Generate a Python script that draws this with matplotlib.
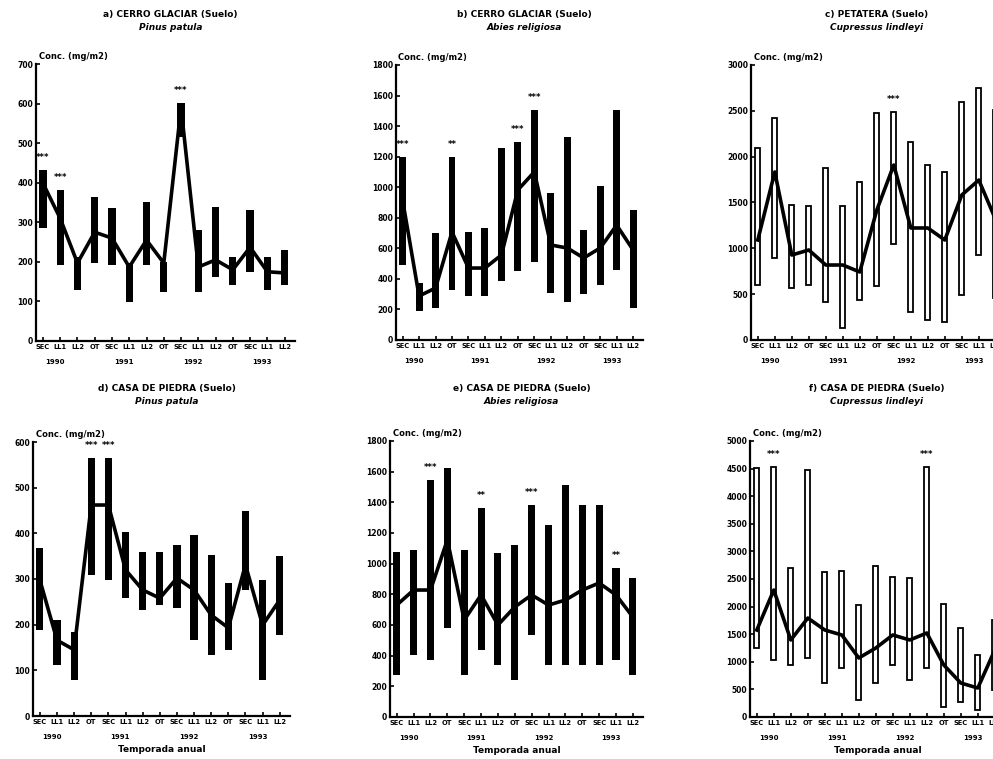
import matplotlib
matplotlib.use("Agg")
import matplotlib.pyplot as plt
import numpy as np

seasons = ["SEC", "LL1", "LL2", "OT"] * 3 + ["SEC", "LL1", "LL2"]
years = ["1990", "1991", "1992", "1993"]
year_pos = [0.7, 4.7, 8.7, 12.7]
x = np.arange(15)

titles = ["a) CERRO GLACIAR (Suelo)", "b) CERRO GLACIAR (Suelo)", "c) PETATERA (Suelo)",
          "d) CASA DE PIEDRA (Suelo)", "e) CASA DE PIEDRA (Suelo)", "f) CASA DE PIEDRA (Suelo)"]
species = ["Pinus patula", "Abies religiosa", "Cupressus lindleyi",
           "Pinus patula", "Abies religiosa", "Cupressus lindleyi"]
ylabel = "Conc. (mg/m2)"
xlabel = "Temporada anual"

# panel a
a_mean = [399, 310, 197, 275, 260, 187, 255, 197, 590, 187, 205, 180, 237, 175, 172]
a_low = [285, 192, 129, 197, 192, 99, 192, 124, 515, 124, 162, 141, 174, 129, 141]
a_high = [432, 381, 212, 364, 336, 197, 351, 200, 601, 280, 338, 212, 331, 212, 230]
a_sig = {0: "***", 1: "***", 8: "***"}
# panel b
b_mean = [916, 288, 340, 707, 471, 471, 556, 982, 1100, 622, 602, 537, 602, 752, 589]
b_low = [491, 190, 209, 327, 288, 288, 386, 452, 510, 307, 249, 301, 360, 458, 209]
b_high = [1198, 373, 700, 1198, 707, 733, 1257, 1296, 1505, 962, 1328, 720, 1008, 1505, 851]
b_sig = {0: "***", 3: "**", 7: "***", 8: "***"}
# panel c
c_mean = [1091, 1833, 927, 982, 818, 818, 742, 1418, 1909, 1222, 1222, 1091, 1582, 1745, 1309]
c_low = [600, 895, 567, 600, 415, 131, 436, 589, 1047, 305, 218, 196, 491, 927, 458]
c_high = [2094, 2422, 1473, 1462, 1876, 1462, 1724, 2476, 2487, 2160, 1909, 1833, 2596, 2749, 2509]
c_sig = {8: "***"}
# panel d
d_mean = [298, 166, 145, 462, 462, 320, 276, 258, 302, 276, 221, 193, 331, 199, 254]
d_low = [188, 112, 79, 309, 298, 258, 232, 243, 236, 166, 134, 145, 276, 79, 177]
d_high = [368, 210, 184, 565, 565, 403, 359, 359, 374, 396, 353, 291, 449, 298, 350]
d_sig = {3: "***", 4: "***"}
# panel e
e_mean = [730, 828, 828, 1155, 633, 796, 600, 718, 796, 730, 763, 828, 874, 796, 652]
e_low = [274, 404, 372, 580, 274, 437, 339, 241, 535, 339, 339, 339, 339, 372, 274]
e_high = [1076, 1089, 1546, 1624, 1089, 1363, 1070, 1122, 1382, 1252, 1513, 1382, 1382, 972, 907]
e_sig = {2: "***", 5: "**", 8: "***", 13: "**"}
# panel f
f_mean = [1576, 2300, 1395, 1793, 1576, 1486, 1069, 1250, 1486, 1395, 1522, 942, 616, 525, 1214]
f_low = [1250, 1033, 942, 1069, 616, 888, 308, 616, 942, 670, 888, 181, 272, 127, 489]
f_high = [4511, 4529, 2699, 4475, 2627, 2645, 2029, 2736, 2536, 2518, 4529, 2047, 1612, 1123, 1757]
f_sig = {1: "***", 10: "***"}

ymaxs = [700, 1800, 3000, 600, 1800, 5000]
ysteps = [100, 200, 500, 100, 200, 500]
hollow = [False, False, True, False, False, True]

panels = [(a_mean, a_low, a_high, a_sig), (b_mean, b_low, b_high, b_sig),
          (c_mean, c_low, c_high, c_sig), (d_mean, d_low, d_high, d_sig),
          (e_mean, e_low, e_high, e_sig), (f_mean, f_low, f_high, f_sig)]

W, H = 993, 759
# pixel boxes: left, right, top, bottom
boxes = [(36, 295, 64, 341), (396, 643, 65, 340), (751, 1006, 65, 340),
         (33, 290, 442, 716), (390, 643, 441, 717), (750, 1005, 441, 717)]
title_y = [(15, 27), (15, 27), (15, 27), (388, 401), (388, 401), (388, 401)]

fig = plt.figure(figsize=(W / 100, H / 100), dpi=100)
plt.rcParams['font.family'] = 'DejaVu Sans'

for i, ((m, lo, hi, sig), (l, r, t, b)) in enumerate(zip(panels, boxes)):
    ax = fig.add_axes([l / W, 1 - b / H, (r - l) / W, (b - t) / H])
    lo = np.array(lo); hi = np.array(hi)
    if hollow[i]:
        ax.bar(x, hi - lo, bottom=lo, width=0.3, facecolor="white", edgecolor="black", linewidth=1.3, zorder=2)
    else:
        ax.bar(x, hi - lo, bottom=lo, width=0.42, color="black", zorder=2)
    ax.plot(x, m, color="black", lw=2.6, zorder=3)
    for k, s in sig.items():
        ax.annotate(s, (x[k], hi[k]), xytext=(0, 6), textcoords="offset points",
                    ha="center", va="bottom", fontsize=6, fontweight="bold")
    ax.set_xlim(-0.4, 14.6)
    ax.set_ylim(0, ymaxs[i])
    ax.set_yticks(np.arange(0, ymaxs[i] + 1, ysteps[i]))
    ax.set_yticklabels([str(v) for v in np.arange(0, ymaxs[i] + 1, ysteps[i])],
                       fontsize=5.5, fontweight="bold")
    ax.set_xticks(x)
    ax.set_xticklabels(seasons, fontsize=4.8, fontweight="bold")
    ax.tick_params(axis="both", direction="in", length=3, width=1.2, pad=2)
    for sp in ["top", "right"]:
        ax.spines[sp].set_visible(False)
    for sp in ["left", "bottom"]:
        ax.spines[sp].set_linewidth(1.6)
    for yp, yr in zip(year_pos, years):
        ax.annotate(yr, (yp, 0), xycoords=("data", "axes fraction"), xytext=(0, -13),
                    textcoords="offset points", ha="center", va="top", fontsize=5, fontweight="bold")
    ax.text(0.01, 1.01, ylabel, transform=ax.transAxes, ha="left", va="bottom",
            fontsize=6, fontweight="bold")
    cx = (l + min(r, 993)) / 2 + 5
    fig.text(cx / W, 1 - title_y[i][0] / H, titles[i], ha="center", va="center",
             fontsize=6.5, fontweight="bold")
    fig.text(cx / W, 1 - title_y[i][1] / H, species[i], ha="center", va="center",
             fontsize=6.5, fontweight="bold", style="italic")
    if i >= 3:
        ax.annotate(xlabel, (0.5, 0), xycoords="axes fraction", xytext=(0, -24),
                    textcoords="offset points", ha="center", va="center", fontsize=6.5, fontweight="bold")

fig.savefig("out.png", dpi=100, facecolor="white")
